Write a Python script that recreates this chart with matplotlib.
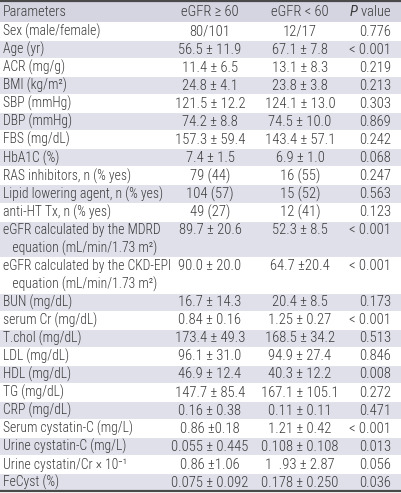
import matplotlib
matplotlib.use("Agg")
import matplotlib.pyplot as plt
from matplotlib.patches import Rectangle

FONT = ['Roboto Condensed', 'DejaVu Sans']
plt.rcParams['font.family'] = FONT
plt.rcParams['mathtext.fontset'] = 'custom'
plt.rcParams['mathtext.rm'] = 'Roboto Condensed'
plt.rcParams['mathtext.it'] = 'Roboto Condensed:italic'

# table content
headers = ["Parameters", "eGFR \u2265 60", "eGFR < 60", "$P$ value"]
parameters = [
    "Sex (male/female)", "Age (yr)", "ACR (mg/g)", "BMI (kg/m\u00b2)",
    "SBP (mmHg)", "DBP (mmHg)", "FBS (mg/dL)", "HbA1C (%)",
    "RAS inhibitors, n (% yes)", "Lipid lowering agent, n (% yes)",
    "anti-HT Tx, n (% yes)",
    "eGFR calculated by the MDRD\n   equation (mL/min/1.73 m\u00b2)",
    "eGFR calculated by the CKD-EPI\n   equation (mL/min/1.73 m\u00b2)",
    "BUN (mg/dL)", "serum Cr (mg/dL)", "T.chol (mg/dL)", "LDL (mg/dL)",
    "HDL (mg/dL)", "TG (mg/dL)", "CRP (mg/dL)", "Serum cystatin-C (mg/L)",
    "Urine cystatin-C (mg/L)", "Urine cystatin/Cr \u00d7 10\u207b\u00b9",
    "FeCyst (%)",
]
egfr_high = [
    "80/101", "56.5 \u00b1 11.9", "11.4 \u00b1 6.5", "24.8 \u00b1 4.1",
    "121.5 \u00b1 12.2", "74.2 \u00b1 8.8", "157.3 \u00b1 59.4", "7.4 \u00b1 1.5",
    "79 (44)", "104 (57)", "49 (27)", "89.7 \u00b1 20.6", "90.0 \u00b1 20.0",
    "16.7 \u00b1 14.3", "0.84 \u00b1 0.16", "173.4 \u00b1 49.3", "96.1 \u00b1 31.0",
    "46.9 \u00b1 12.4", "147.7 \u00b1 85.4", "0.16 \u00b1 0.38", "0.86 \u00b10.18",
    "0.055 \u00b1 0.445", "0.86 \u00b11.06", "0.075 \u00b1 0.092",
]
egfr_low = [
    "12/17", "67.1 \u00b1 7.8", "13.1 \u00b1 8.3", "23.8 \u00b1 3.8",
    "124.1 \u00b1 13.0", "74.5 \u00b1 10.0", "143.4 \u00b1 57.1", "6.9 \u00b1 1.0",
    "16 (55)", "15 (52)", "12 (41)", "52.3 \u00b1 8.5", "64.7 \u00b120.4",
    "20.4 \u00b1 8.5", "1.25 \u00b1 0.27", "168.5 \u00b1 34.2", "94.9 \u00b1 27.4",
    "40.3 \u00b1 12.2", "167.1 \u00b1 105.1", "0.11 \u00b1 0.11", "1.21 \u00b1 0.42",
    "0.108 \u00b1 0.108", "1  .93 \u00b1 2.87", "0.178 \u00b1 0.250",
]
p_values = [
    "0.776", "< 0.001", "0.219", "0.213", "0.303", "0.869", "0.242", "0.068",
    "0.247", "0.563", "0.123", "< 0.001", "< 0.001", "0.173", "< 0.001",
    "0.513", "0.846", "0.008", "0.272", "0.471", "< 0.001", "0.013", "0.056",
    "0.036",
]

W, H = 401, 493
HEAD_H = 22
UNIT = 18.05
X_PARAM, X_C1, X_C2, X_P = 3, 210, 300, 391
TXT = '#3a3a3a'
SHADE = '#e0e0eb'
HEAD_SHADE = '#d5d5e2'
FS = 9.8       # parameter column
FS_VAL = 10.5  # value columns
WT = 'light'

fig = plt.figure(figsize=(W / 100, H / 100), dpi=100)
ax = fig.add_axes([0, 0, 1, 1])
ax.set_xlim(0, W)
ax.set_ylim(H, 0)
ax.axis('off')


def put(x, y, s, ha, fs=FS_VAL):
    ax.text(x, y, s, ha=ha, va='center', fontsize=fs, color=TXT, fontweight=WT)


# header
ax.add_patch(Rectangle((0, 0), W, HEAD_H, color=HEAD_SHADE, lw=0))
hy = HEAD_H / 2 + 1
put(X_PARAM, hy, headers[0], 'left', FS + 0.5)
put(X_C1, hy, headers[1], 'center')
put(X_C2, hy, headers[2], 'center')
put(X_P, hy, headers[3], 'right')

y = HEAD_H
for i, name in enumerate(parameters):
    nlines = name.count('\n') + 1
    h = UNIT * nlines
    if i % 2 == 1:
        ax.add_patch(Rectangle((0, y), W, h, color=SHADE, lw=0))
    ax.plot([0, W], [y, y], color='white', lw=0.8)
    yc = y + UNIT / 2 + 0.5
    for k, line in enumerate(name.split('\n')):
        put(X_PARAM, yc + k * UNIT, line, 'left', FS)
    put(X_C1, yc, egfr_high[i], 'center')
    put(X_C2, yc, egfr_low[i], 'center')
    put(X_P, yc, p_values[i], 'right')
    y += h

# top and bottom rules
ax.plot([0, W], [0.8, 0.8], color='#4a4a4a', lw=1.6)
ax.plot([0, W], [y, y], color='#4a4a4a', lw=1.6)

fig.savefig('out.png', dpi=100)
